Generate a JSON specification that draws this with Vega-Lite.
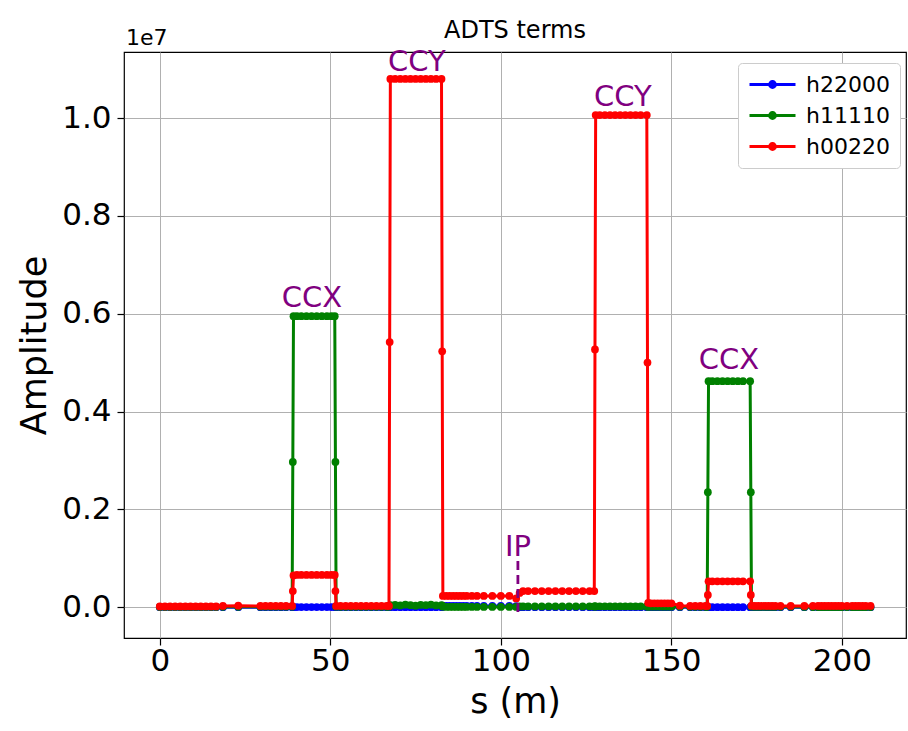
{
  "$schema": "https://vega.github.io/schema/vega-lite/v6.json",
  "width": 782,
  "height": 586,
  "autosize": {"type": "none"},
  "padding": {"left": 124, "top": 52, "right": 2, "bottom": 93},
  "background": "white",
  "title": {"text": "ADTS terms", "fontSize": 24, "fontWeight": "normal", "font": "DejaVu Sans", "color": "black", "anchor": "middle", "offset": -16},
  "config": {
    "font": "DejaVu Sans",
    "view": {"stroke": "black", "strokeWidth": 1.2},
    "axis": {"labelFont": "DejaVu Sans", "titleFont": "DejaVu Sans", "labelFontSize": 31, "titleFontSize": 35, "titleFontWeight": "normal", "labelColor": "black", "titleColor": "black", "domain": false, "tickColor": "black", "tickSize": 7, "tickWidth": 1.2, "gridColor": "#b0b0b0", "gridWidth": 1, "gridOpacity": 1},
    "legend": {"orient": "none", "legendX": 614, "legendY": 11, "title": null, "symbolType": "M-1,0L3.6,0M1.0,0A0.3,0.3 0 1,0 1.6,0A0.3,0.3 0 1,0 1.0,0", "symbolSize": 400, "symbolStrokeWidth": 2.8, "labelFontSize": 22, "labelFont": "DejaVu Sans", "labelColor": "black", "labelOffset": 35, "rowPadding": 8, "padding": 10, "strokeColor": "#cccccc", "fillColor": "white", "cornerRadius": 4}
  },
  "data": {"values": [
    {"s": 0, "h22000": 0, "h11110": 5000, "h00220": 15000},
    {"s": 1.5, "h22000": 0, "h11110": 5000, "h00220": 15000},
    {"s": 3, "h22000": 0, "h11110": 5000, "h00220": 15000},
    {"s": 4.5, "h22000": 0, "h11110": 5000, "h00220": 15000},
    {"s": 6, "h22000": 0, "h11110": 5000, "h00220": 15000},
    {"s": 7.5, "h22000": 0, "h11110": 5000, "h00220": 15000},
    {"s": 9, "h22000": 0, "h11110": 5000, "h00220": 15000},
    {"s": 10.5, "h22000": 0, "h11110": 5000, "h00220": 15000},
    {"s": 12, "h22000": 0, "h11110": 5000, "h00220": 15000},
    {"s": 13.5, "h22000": 0, "h11110": 5000, "h00220": 15000},
    {"s": 15, "h22000": 0, "h11110": 5000, "h00220": 15000},
    {"s": 16.5, "h22000": 0, "h11110": 5000, "h00220": 15000},
    {"s": 18.5, "h22000": 0, "h11110": 8000, "h00220": 25000},
    {"s": 23, "h22000": 0, "h11110": 8000, "h00220": 30000},
    {"s": 29.5, "h22000": 0, "h11110": 10000, "h00220": 25000},
    {"s": 31, "h22000": 0, "h11110": 10000, "h00220": 25000},
    {"s": 32.5, "h22000": 0, "h11110": 10000, "h00220": 25000},
    {"s": 34, "h22000": 0, "h11110": 10000, "h00220": 25000},
    {"s": 35.5, "h22000": 0, "h11110": 10000, "h00220": 25000},
    {"s": 37, "h22000": 0, "h11110": 10000, "h00220": 25000},
    {"s": 38.8, "h22000": 0, "h11110": 10000, "h00220": 25000},
    {"s": 39.0, "h22000": 0, "h11110": 2970000, "h00220": 330000},
    {"s": 39.2, "h22000": 0, "h11110": 5950000, "h00220": 650000},
    {"s": 40.2, "h22000": 2000, "h11110": 5950000, "h00220": 660000},
    {"s": 41.5, "h22000": 2000, "h11110": 5950000, "h00220": 660000},
    {"s": 43, "h22000": 2000, "h11110": 5950000, "h00220": 660000},
    {"s": 44.5, "h22000": 2000, "h11110": 5950000, "h00220": 660000},
    {"s": 46, "h22000": 2000, "h11110": 5950000, "h00220": 660000},
    {"s": 47.5, "h22000": 2000, "h11110": 5950000, "h00220": 660000},
    {"s": 49, "h22000": 2000, "h11110": 5950000, "h00220": 660000},
    {"s": 50.3, "h22000": 2000, "h11110": 5950000, "h00220": 660000},
    {"s": 51.3, "h22000": 2000, "h11110": 5950000, "h00220": 660000},
    {"s": 51.5, "h22000": 0, "h11110": 2970000, "h00220": 330000},
    {"s": 51.7, "h22000": 0, "h11110": 10000, "h00220": 25000},
    {"s": 53, "h22000": 0, "h11110": 8000, "h00220": 25000},
    {"s": 54.5, "h22000": 0, "h11110": 8000, "h00220": 25000},
    {"s": 56, "h22000": 0, "h11110": 8000, "h00220": 25000},
    {"s": 57.5, "h22000": 0, "h11110": 8000, "h00220": 25000},
    {"s": 59, "h22000": 0, "h11110": 8000, "h00220": 25000},
    {"s": 60.5, "h22000": 0, "h11110": 8000, "h00220": 25000},
    {"s": 62, "h22000": 0, "h11110": 8000, "h00220": 25000},
    {"s": 63.5, "h22000": 0, "h11110": 8000, "h00220": 25000},
    {"s": 65, "h22000": 0, "h11110": 8000, "h00220": 25000},
    {"s": 66.5, "h22000": 0, "h11110": 8000, "h00220": 25000},
    {"s": 67.2, "h22000": 0, "h11110": 10000, "h00220": 25000},
    {"s": 67.4, "h22000": 0, "h11110": 30000, "h00220": 5420000},
    {"s": 67.6, "h22000": 0, "h11110": 40000, "h00220": 10800000},
    {"s": 69, "h22000": 0, "h11110": 45000, "h00220": 10800000},
    {"s": 70.5, "h22000": 0, "h11110": 35000, "h00220": 10800000},
    {"s": 72, "h22000": 0, "h11110": 50000, "h00220": 10800000},
    {"s": 73.5, "h22000": 0, "h11110": 40000, "h00220": 10800000},
    {"s": 75, "h22000": 0, "h11110": 30000, "h00220": 10800000},
    {"s": 76.5, "h22000": 0, "h11110": 45000, "h00220": 10800000},
    {"s": 78, "h22000": 0, "h11110": 40000, "h00220": 10800000},
    {"s": 79.5, "h22000": 0, "h11110": 50000, "h00220": 10800000},
    {"s": 81, "h22000": 0, "h11110": 35000, "h00220": 10800000},
    {"s": 82.6, "h22000": 0, "h11110": 40000, "h00220": 10800000},
    {"s": 82.8, "h22000": 10000, "h11110": 30000, "h00220": 5230000},
    {"s": 83.0, "h22000": 25000, "h11110": 10000, "h00220": 230000},
    {"s": 84, "h22000": 25000, "h11110": 5000, "h00220": 230000},
    {"s": 85, "h22000": 25000, "h11110": 5000, "h00220": 230000},
    {"s": 86, "h22000": 25000, "h11110": 5000, "h00220": 230000},
    {"s": 87, "h22000": 25000, "h11110": 5000, "h00220": 230000},
    {"s": 88, "h22000": 25000, "h11110": 5000, "h00220": 230000},
    {"s": 89, "h22000": 25000, "h11110": 5000, "h00220": 230000},
    {"s": 90, "h22000": 25000, "h11110": 5000, "h00220": 230000},
    {"s": 91.5, "h22000": 25000, "h11110": 5000, "h00220": 230000},
    {"s": 93, "h22000": 25000, "h11110": 5000, "h00220": 230000},
    {"s": 95, "h22000": 25000, "h11110": 5000, "h00220": 230000},
    {"s": 97.5, "h22000": 25000, "h11110": 5000, "h00220": 230000},
    {"s": 100, "h22000": 25000, "h11110": 5000, "h00220": 230000},
    {"s": 102.5, "h22000": 25000, "h11110": 5000, "h00220": 230000},
    {"s": 104.5, "h22000": 20000, "h11110": 5000, "h00220": 180000},
    {"s": 105.5, "h22000": 0, "h11110": 15000, "h00220": 290000},
    {"s": 106.5, "h22000": 0, "h11110": 15000, "h00220": 330000},
    {"s": 108, "h22000": 0, "h11110": 15000, "h00220": 330000},
    {"s": 110, "h22000": 0, "h11110": 15000, "h00220": 330000},
    {"s": 112, "h22000": 0, "h11110": 15000, "h00220": 330000},
    {"s": 114, "h22000": 0, "h11110": 15000, "h00220": 330000},
    {"s": 116, "h22000": 0, "h11110": 15000, "h00220": 330000},
    {"s": 118, "h22000": 0, "h11110": 15000, "h00220": 330000},
    {"s": 120, "h22000": 0, "h11110": 15000, "h00220": 330000},
    {"s": 122, "h22000": 0, "h11110": 15000, "h00220": 330000},
    {"s": 124, "h22000": 0, "h11110": 15000, "h00220": 330000},
    {"s": 126, "h22000": 0, "h11110": 15000, "h00220": 330000},
    {"s": 127.4, "h22000": 0, "h11110": 15000, "h00220": 330000},
    {"s": 127.6, "h22000": 0, "h11110": 15000, "h00220": 5270000},
    {"s": 127.8, "h22000": 0, "h11110": 15000, "h00220": 10060000},
    {"s": 129, "h22000": 0, "h11110": 15000, "h00220": 10060000},
    {"s": 130.5, "h22000": 0, "h11110": 15000, "h00220": 10060000},
    {"s": 132, "h22000": 0, "h11110": 15000, "h00220": 10060000},
    {"s": 133.5, "h22000": 0, "h11110": 15000, "h00220": 10060000},
    {"s": 135, "h22000": 0, "h11110": 15000, "h00220": 10060000},
    {"s": 136.5, "h22000": 0, "h11110": 15000, "h00220": 10060000},
    {"s": 138, "h22000": 0, "h11110": 15000, "h00220": 10060000},
    {"s": 139.5, "h22000": 0, "h11110": 15000, "h00220": 10060000},
    {"s": 141, "h22000": 0, "h11110": 15000, "h00220": 10060000},
    {"s": 142.8, "h22000": 0, "h11110": 15000, "h00220": 10060000},
    {"s": 143.0, "h22000": 0, "h11110": 15000, "h00220": 5000000},
    {"s": 143.2, "h22000": 0, "h11110": 10000, "h00220": 90000},
    {"s": 144, "h22000": 0, "h11110": 10000, "h00220": 80000},
    {"s": 145, "h22000": 0, "h11110": 10000, "h00220": 80000},
    {"s": 146, "h22000": 0, "h11110": 10000, "h00220": 80000},
    {"s": 147, "h22000": 0, "h11110": 10000, "h00220": 80000},
    {"s": 148, "h22000": 0, "h11110": 10000, "h00220": 80000},
    {"s": 149, "h22000": 0, "h11110": 10000, "h00220": 80000},
    {"s": 150, "h22000": 0, "h11110": 10000, "h00220": 80000},
    {"s": 152.5, "h22000": 0, "h11110": 10000, "h00220": 30000},
    {"s": 155.5, "h22000": 0, "h11110": 8000, "h00220": 25000},
    {"s": 157, "h22000": 0, "h11110": 8000, "h00220": 25000},
    {"s": 158.5, "h22000": 0, "h11110": 8000, "h00220": 25000},
    {"s": 160, "h22000": 0, "h11110": 8000, "h00220": 25000},
    {"s": 160.5, "h22000": 0, "h11110": 8000, "h00220": 25000},
    {"s": 160.7, "h22000": 0, "h11110": 2350000, "h00220": 250000},
    {"s": 160.9, "h22000": 0, "h11110": 4620000, "h00220": 530000},
    {"s": 162, "h22000": 0, "h11110": 4620000, "h00220": 530000},
    {"s": 163.5, "h22000": 0, "h11110": 4620000, "h00220": 530000},
    {"s": 165, "h22000": 0, "h11110": 4620000, "h00220": 530000},
    {"s": 166.5, "h22000": 0, "h11110": 4620000, "h00220": 530000},
    {"s": 168, "h22000": 0, "h11110": 4620000, "h00220": 530000},
    {"s": 169.5, "h22000": 0, "h11110": 4620000, "h00220": 530000},
    {"s": 171, "h22000": 0, "h11110": 4620000, "h00220": 530000},
    {"s": 173.1, "h22000": 0, "h11110": 4620000, "h00220": 530000},
    {"s": 173.3, "h22000": 0, "h11110": 2350000, "h00220": 250000},
    {"s": 173.5, "h22000": 0, "h11110": 10000, "h00220": 30000},
    {"s": 174.5, "h22000": 0, "h11110": 8000, "h00220": 25000},
    {"s": 175.5, "h22000": 0, "h11110": 8000, "h00220": 25000},
    {"s": 176.5, "h22000": 0, "h11110": 8000, "h00220": 25000},
    {"s": 177.5, "h22000": 0, "h11110": 8000, "h00220": 25000},
    {"s": 178.5, "h22000": 0, "h11110": 8000, "h00220": 25000},
    {"s": 179.5, "h22000": 0, "h11110": 8000, "h00220": 25000},
    {"s": 180.5, "h22000": 0, "h11110": 8000, "h00220": 25000},
    {"s": 182, "h22000": 0, "h11110": 8000, "h00220": 25000},
    {"s": 185, "h22000": 0, "h11110": 8000, "h00220": 25000},
    {"s": 189, "h22000": 0, "h11110": 5000, "h00220": 25000},
    {"s": 191.5, "h22000": 0, "h11110": 3000, "h00220": 25000},
    {"s": 193, "h22000": 0, "h11110": 3000, "h00220": 25000},
    {"s": 194, "h22000": 0, "h11110": 3000, "h00220": 25000},
    {"s": 195, "h22000": 0, "h11110": 3000, "h00220": 25000},
    {"s": 196, "h22000": 0, "h11110": 3000, "h00220": 25000},
    {"s": 197, "h22000": 0, "h11110": 3000, "h00220": 25000},
    {"s": 198, "h22000": 0, "h11110": 3000, "h00220": 25000},
    {"s": 199, "h22000": 0, "h11110": 3000, "h00220": 25000},
    {"s": 200, "h22000": 0, "h11110": 3000, "h00220": 25000},
    {"s": 201.5, "h22000": 0, "h11110": 3000, "h00220": 25000},
    {"s": 203, "h22000": 0, "h11110": 3000, "h00220": 25000},
    {"s": 204, "h22000": 0, "h11110": 3000, "h00220": 25000},
    {"s": 205, "h22000": 0, "h11110": 3000, "h00220": 25000},
    {"s": 206, "h22000": 0, "h11110": 3000, "h00220": 25000},
    {"s": 207, "h22000": 0, "h11110": 3000, "h00220": 25000},
    {"s": 208.4, "h22000": 0, "h11110": 3000, "h00220": 25000}
  ]},
  "transform": [{"fold": ["h22000", "h11110", "h00220"], "as": ["series", "amp"]}],
  "encoding": {
    "x": {"field": "s", "type": "quantitative", "scale": {"domain": [-10.5, 218.8], "nice": false, "zero": false}, "axis": {"title": "s (m)", "values": [0, 50, 100, 150, 200], "labelPadding": 1, "titlePadding": 8}},
    "y": {"field": "amp", "type": "quantitative", "scale": {"domain": [-630000, 11350000], "nice": false, "zero": false}, "axis": {"title": "Amplitude", "values": [0, 2000000, 4000000, 6000000, 8000000, 10000000], "labelExpr": "format(datum.value / 10000000, '.1f')", "labelPadding": 6, "titlePadding": 9}},
    "color": {"field": "series", "type": "nominal", "scale": {"domain": ["h22000", "h11110", "h00220"], "range": ["#0000ff", "#008000", "#ff0000"]}, "legend": {"encode": {"symbols": {"update": {"fill": {"scale": "color", "field": "value"}, "stroke": {"scale": "color", "field": "value"}, "opacity": {"value": 1}}}}}}
  },
  "layer": [
    {"transform": [{"filter": "datum.series === 'h22000'"}], "mark": {"type": "line", "strokeWidth": 3, "point": {"filled": true, "size": 60, "opacity": 1}}},
    {"transform": [{"filter": "datum.series === 'h11110'"}], "mark": {"type": "line", "strokeWidth": 3, "point": {"filled": true, "size": 60, "opacity": 1}}},
    {"transform": [{"filter": "datum.series === 'h00220'"}], "mark": {"type": "line", "strokeWidth": 3, "point": {"filled": true, "size": 60, "opacity": 1}}},
    {
      "data": {"values": [{"s": 105, "lo": -100000, "hi": 1000000}]},
      "transform": [],
      "mark": {"type": "rule", "color": "#800080", "strokeWidth": 2.8, "strokeDash": [9, 5]},
      "encoding": {"x": {"field": "s", "type": "quantitative"}, "y": {"field": "lo", "type": "quantitative"}, "y2": {"field": "hi"}, "color": {"value": "#800080"}}
    },
    {
      "data": {"values": [
        {"label": "CCX", "s": 44.6, "amp": 6320000},
        {"label": "CCY", "s": 75.4, "amp": 11150000},
        {"label": "CCY", "s": 135.8, "amp": 10430000},
        {"label": "CCX", "s": 166.9, "amp": 5050000},
        {"label": "IP", "s": 105, "amp": 1230000}
      ]},
      "transform": [],
      "mark": {"type": "text", "fontSize": 29, "font": "DejaVu Sans", "align": "center", "baseline": "middle", "color": "#800080"},
      "encoding": {"x": {"field": "s", "type": "quantitative"}, "y": {"field": "amp", "type": "quantitative"}, "text": {"field": "label"}, "color": {"value": "#800080"}}
    },
    {
      "data": {"values": [{"label": "1e7", "s": -3.8, "amp": 11640000}]},
      "transform": [],
      "mark": {"type": "text", "fontSize": 22, "font": "DejaVu Sans", "align": "center", "baseline": "middle", "color": "black", "clip": false},
      "encoding": {"x": {"field": "s", "type": "quantitative"}, "y": {"field": "amp", "type": "quantitative"}, "text": {"field": "label"}, "color": {"value": "black"}}
    }
  ]
}
